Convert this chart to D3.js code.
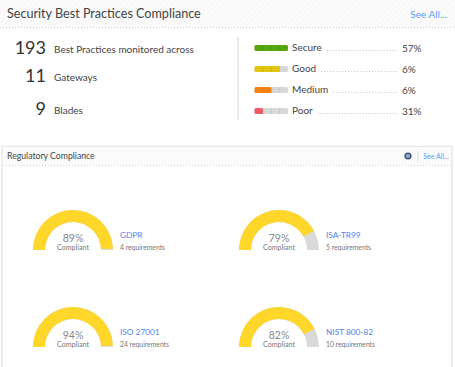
<!DOCTYPE html>
<html>
<head>
    <meta charset="utf-8">
    <title>Compliance</title>
    <script src="https://cdn.jsdelivr.net/npm/d3@7"></script>
    <style>
        html, body { margin: 0; padding: 0; background: #fff; }
        svg { display: block; }
        text { font-family: Lato, "Open Sans", sans-serif; }
    </style>
</head>
<body>
<script>
    // summary counts
    let countValues = [193, 11, 9],
        countLabels = ["Best Practices monitored across", "Gateways", "Blades"];

    // score legend
    let levels = ["Secure", "Good", "Medium", "Poor"],
        levelShare = [57, 6, 6, 31],
        levelSegments = [4, 3, 2, 1],
        levelColors = ["#55a70f", "#e0c515", "#f5820f", "#ee5b62"];

    // regulations
    let regulations = ["GDPR", "ISA-TR99", "ISO 27001", "NIST 800-82"],
        compliant = [89, 79, 94, 82],
        requirements = [4, 5, 24, 10],
        // how far the yellow arc really goes in the picture
        arcFill = [99, 84, 99, 85];

    let width = 455,
        height = 367;

    let svg = d3.select("body").append("svg")
        .attr("width", width)
        .attr("height", height);

    let defs = svg.append("defs");
    let hatch = defs.append("pattern")
        .attr("id", "hatch")
        .attr("width", 4)
        .attr("height", 4)
        .attr("patternUnits", "userSpaceOnUse")
        .attr("patternTransform", "rotate(45)");
    hatch.append("rect").attr("width", 4).attr("height", 4).attr("fill", "#fbfbfb");
    hatch.append("line").attr("x1", 0).attr("x2", 0).attr("y1", 0).attr("y2", 4)
        .attr("stroke", "#f3f3f3").attr("stroke-width", 1.5);

    renderHeader();
    renderCounts();
    renderLevels();
    renderPanel();
    renderGauges();

    function renderHeader() {
        svg.append("rect").attr("width", width).attr("height", 27).attr("fill", "url(#hatch)");
        svg.append("line").attr("x1", 0).attr("x2", width).attr("y1", 27.5).attr("y2", 27.5)
            .attr("stroke", "#cfcfcf").attr("stroke-dasharray", "1 2");
        svg.append("text").attr("x", 7).attr("y", 18).attr("font-size", 12.6).attr("fill", "#444")
            .text("Security Best Practices Compliance");
        svg.append("text").attr("x", 447).attr("y", 18).attr("text-anchor", "end")
            .attr("font-size", 10).attr("fill", "#5b9cf5").text("See All...");
    }

    function renderCounts() {
        let y = d3.scaleOrdinal().domain(countLabels).range([54, 82, 115]);
        let rows = svg.selectAll("g.count").data(countLabels).enter().append("g")
            .attr("class", "count")
            .attr("transform", (d) => "translate(0," + y(d) + ")");
        rows.append("text").attr("x", 46).attr("text-anchor", "end").attr("font-size", 18).attr("fill", "#333")
            .text((d, i) => countValues[i]);
        rows.append("text").attr("x", 54).attr("y", -1).attr("font-size", 10).attr("fill", "#444")
            .text((d) => d);
    }

    function renderLevels() {
        svg.append("line").attr("x1", 238).attr("x2", 238).attr("y1", 37).attr("y2", 120)
            .attr("stroke", "#d9d9d9");

        let y = d3.scalePoint().domain(levels).range([48, 111]);
        let bar = d3.scaleLinear().domain([0, 4]).range([254.5, 288]);

        let rows = svg.selectAll("g.level").data(levels).enter().append("g")
            .attr("class", "level")
            .attr("transform", (d) => "translate(0," + y(d) + ")");

        rows.append("rect").attr("x", bar(0)).attr("y", -3).attr("width", bar(4) - bar(0)).attr("height", 6)
            .attr("rx", 1.5).attr("fill", "#d8d8d8");
        rows.append("rect").attr("x", bar(0)).attr("y", -3)
            .attr("width", (d, i) => bar(levelSegments[i]) - bar(0)).attr("height", 6)
            .attr("rx", 1.5).attr("fill", (d, i) => levelColors[i]);
        rows.selectAll("line.tick").data([1, 2, 3]).enter().append("line")
            .attr("class", "tick")
            .attr("x1", (d) => bar(d)).attr("x2", (d) => bar(d)).attr("y1", -3).attr("y2", 3)
            .attr("stroke", "#000").attr("stroke-opacity", 0.08);

        let labels = rows.append("text").attr("x", 292).attr("y", 3).attr("font-size", 10).attr("fill", "#444")
            .text((d) => d);
        rows.append("line")
            .attr("x1", function (d, i) { return 292 + labels.nodes()[i].getComputedTextLength() + 5; })
            .attr("x2", 397).attr("y1", 2.5).attr("y2", 2.5)
            .attr("stroke", "#c4c4c4").attr("stroke-dasharray", "1 2");
        rows.append("text").attr("x", 402).attr("y", 4).attr("font-size", 10).attr("fill", "#444")
            .text((d, i) => levelShare[i] + "%");
    }

    function renderPanel() {
        svg.append("rect").attr("x", 2).attr("y", 146.5).attr("width", 450).attr("height", 230)
            .attr("fill", "#fff").attr("stroke", "#e8e8e8").attr("stroke-width", 1.5);
        svg.append("rect").attr("x", 3).attr("y", 147).attr("width", 448).attr("height", 18).attr("fill", "#fbfbfb");
        svg.append("line").attr("x1", 3).attr("x2", 451).attr("y1", 165.5).attr("y2", 165.5)
            .attr("stroke", "#d5d5d5").attr("stroke-dasharray", "1 2");
        svg.append("text").attr("x", 7).attr("y", 159).attr("font-size", 8.7).attr("fill", "#444")
            .text("Regulatory Compliance");
        svg.append("circle").attr("cx", 408).attr("cy", 156).attr("r", 2.8).attr("fill", "#9db2c9")
            .attr("stroke", "#34587f").attr("stroke-width", 1.6);
        svg.append("line").attr("x1", 418).attr("x2", 418).attr("y1", 151).attr("y2", 161)
            .attr("stroke", "#d5dfe8");
        svg.append("text").attr("x", 449).attr("y", 159).attr("text-anchor", "end").attr("font-size", 7)
            .attr("fill", "#5b9cf5").text("See All...");
    }

    function renderGauges() {
        let col = d3.scalePoint().domain([0, 1]).range([73, 279]);
        let row = d3.scalePoint().domain([0, 1]).range([250, 347]);
        let angle = d3.scaleLinear().domain([0, 100]).range([-Math.PI / 2, Math.PI / 2]);
        let arc = d3.arc().innerRadius(28).outerRadius(40);

        let g = svg.selectAll("g.gauge").data(regulations).enter().append("g")
            .attr("class", "gauge")
            .attr("transform", (d, i) => "translate(" + col(i % 2) + "," + row(Math.floor(i / 2)) + ")");

        g.append("path").attr("fill", "#d9d9d9")
            .attr("d", () => arc({startAngle: angle(0), endAngle: angle(100)}));
        g.append("path").attr("fill", "#ffd62a")
            .attr("d", (d, i) => arc({startAngle: angle(0), endAngle: angle(arcFill[i])}));

        g.append("text").attr("y", -8.5).attr("text-anchor", "middle").attr("font-size", 10.5).attr("fill", "#888")
            .text((d, i) => compliant[i] + "%");
        g.append("text").attr("y", -0.5).attr("text-anchor", "middle").attr("font-size", 7.1).attr("fill", "#777")
            .text("Compliant");
        g.append("text").attr("x", 47).attr("y", -12).attr("font-size", 8.3).attr("fill", "#4d86ee")
            .text((d) => d);
        g.append("text").attr("x", 47).attr("y", -0.5).attr("font-size", 6.8).attr("fill", "#777")
            .text((d, i) => requirements[i] + " requirements");
    }
</script>
</body>
</html>
